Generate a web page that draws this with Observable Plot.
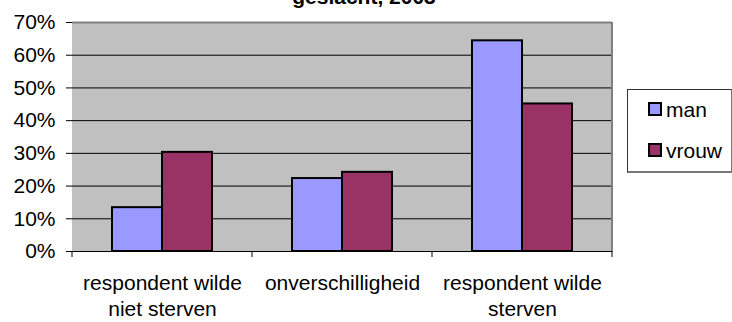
<!DOCTYPE html>
<html><head><meta charset="utf-8">
<script src="https://cdn.jsdelivr.net/npm/d3@7"></script>
<script src="https://cdn.jsdelivr.net/npm/@observablehq/plot@0.6"></script>
<style>
html,body{margin:0;padding:0;background:#fff;overflow:hidden}
#wrap{position:relative;width:732px;height:322px;font-family:"Liberation Sans",Arial,sans-serif;color:#000}
#title{position:absolute;left:0;top:-13px;width:728px;text-align:center;font-weight:bold;font-size:21px;line-height:20px;white-space:nowrap}
#legend{position:absolute;left:627px;top:89px;width:103px;height:81px;border:1px solid #333;border-bottom:2px solid #777;border-right:2px solid #777;background:#fff}
.item{position:absolute;left:20px;height:20px;font-size:21px;line-height:20px;white-space:nowrap}
.sw{position:absolute;left:0;top:2px;width:10px;height:10px;border:2px solid #000}
.lab{position:absolute;left:18px;top:0}
</style></head>
<body><div id="wrap"><div id="chart"></div><div id="title">geslacht, 2003</div><div id="legend"></div></div>
<script>
// ---- data ----
const categories = ["respondent wilde\nniet sterven", "onverschilligheid", "respondent wilde\nsterven"];
const series = ["man", "vrouw"];
const manValues = [0.134, 0.223, 0.644];
const vrouwValues = [0.303, 0.242, 0.451];
const colors = ["#9999ff", "#993366"];
const yTicks = [0, 0.1, 0.2, 0.3, 0.4, 0.5, 0.6, 0.7];
const gridTicks = [0.1, 0.2, 0.3, 0.4, 0.5, 0.6];
const title = "geslacht, 2003";

const valuesBySeries = {man: manValues, vrouw: vrouwValues};
const data = categories.flatMap((c, i) => series.map(s => ({category: c, series: s, value: valuesBySeries[s][i]})));

const plot = Plot.plot({
  width: 732, height: 322,
  marginLeft: 72, marginRight: 120, marginTop: 22, marginBottom: 71,
  style: {fontFamily: '"Liberation Sans", Arial, sans-serif', fontSize: "21px", color: "black", background: "white", overflow: "visible"},
  fx: {domain: categories, padding: 0, label: null, axis: null},
  x: {domain: series, paddingInner: 0, paddingOuter: 0.765, axis: null},
  y: {domain: [0, 0.7], axis: null},
  color: {domain: series, range: colors},
  marks: [
    Plot.frame({fill: "#c0c0c0", stroke: "#c0c0c0"}),
    Plot.ruleY(gridTicks, {stroke: "black", strokeWidth: 1}),
    Plot.ruleY([0.7], {stroke: "#808080", strokeWidth: 2}),
    Plot.barY(data, {fx: "category", x: "series", y: "value", fill: "series", stroke: "black", strokeWidth: 2}),
    Plot.ruleY([0], {stroke: "black", strokeWidth: 1}),
    Plot.axisY({ticks: yTicks, tickFormat: d3.format(".0%"), tickSize: 6, tickPadding: 11, fontSize: 21, line: true, label: null, stroke: "black"}),
    Plot.axisFx({anchor: "bottom", domain: categories, tickSize: 0, tickPadding: 21, fontSize: 21, lineHeight: 1.2, label: null})
  ]
});
document.getElementById("chart").appendChild(plot);

// category boundary ticks and right border, positioned with Plot's own scales
const fxs = plot.scale("fx");
const ys = plot.scale("y");
const svg = d3.select(plot);
const yBase = ys.apply(0), yTop = ys.apply(0.7);
const edges = categories.map(c => fxs.apply(c)).concat([fxs.apply(categories[categories.length - 1]) + fxs.bandwidth]);
svg.append("line").attr("x1", edges[edges.length - 1]).attr("x2", edges[edges.length - 1])
  .attr("y1", yTop).attr("y2", yBase).attr("stroke", "#808080").attr("stroke-width", 2);
svg.append("g").selectAll("line").data(edges).join("line")
  .attr("x1", d => d).attr("x2", d => d).attr("y1", yBase).attr("y2", yBase + 6)
  .attr("stroke", "black").attr("stroke-width", 1);

// legend
const legend = d3.select("#legend");
series.forEach((s, i) => {
  const item = legend.append("div").attr("class", "item").style("top", (10 + i * 41) + "px");
  item.append("div").attr("class", "sw").style("background", colors[i]);
  item.append("div").attr("class", "lab").text(s);
});
</script>
</body></html>
